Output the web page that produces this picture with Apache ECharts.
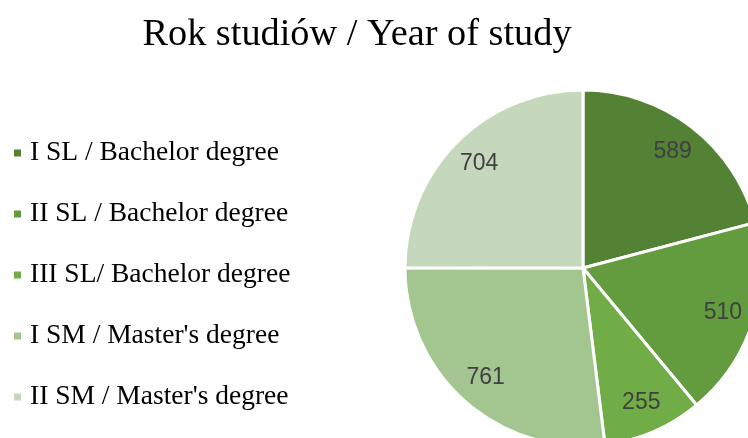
<!DOCTYPE html>
<html><head><meta charset="utf-8">
<script src="https://cdn.jsdelivr.net/npm/echarts@6/dist/echarts.min.js"></script>
<style>html,body{margin:0;padding:0;background:#fff}#c{width:748px;height:438px}</style>
</head><body><div id="c"></div>
<script>
const categories = ["I SL / Bachelor degree", "II SL / Bachelor degree", "III SL/ Bachelor degree", "I SM / Master's degree", "II SM / Master's degree"];
const values = [589, 510, 255, 761, 704];
const colors = ["#548235", "#629C3E", "#70AD47", "#A3C58F", "#C5D8BC"];
const titleText = "Rok studiów / Year of study";

const data = categories.map((n, i) => ({ name: n, value: values[i], itemStyle: { color: colors[i] } }));
const chart = echarts.init(document.getElementById('c'));
chart.setOption({
  animation: false,
  title: { text: titleText, left: 352, textAlign: 'center', top: 11,
    textStyle: { fontFamily: 'Liberation Serif', fontSize: 38.3, fontWeight: 'normal', color: '#000' } },
  legend: { orient: 'vertical', left: 12, top: 139, padding: 0, itemWidth: 9, itemHeight: 9, itemGap: 33, icon: 'rect',
    data: categories,
    textStyle: { fontFamily: 'Liberation Serif', fontSize: 27.5, color: '#000', lineHeight: 27, padding: [0, 0, 0, 3] } },
  series: [
    { type: 'pie', center: [583, 268], radius: [0, 178], startAngle: 90, clockwise: true,
      silent: true, label: { show: false }, labelLine: { show: false },
      itemStyle: { borderColor: '#fff', borderWidth: 3 }, data: data },
    { type: 'pie', center: [583, 268], radius: [110, 178], startAngle: 90, clockwise: true,
      silent: true, legendHoverLink: false,
      label: { show: true, position: 'inside', formatter: '{c}', fontFamily: 'Liberation Sans', fontSize: 23, color: '#404040' },
      itemStyle: { color: 'rgba(0,0,0,0)', borderWidth: 0 },
      data: categories.map((n, i) => ({ name: n + ' ', value: values[i] })) }
  ]
});
</script></body></html>
